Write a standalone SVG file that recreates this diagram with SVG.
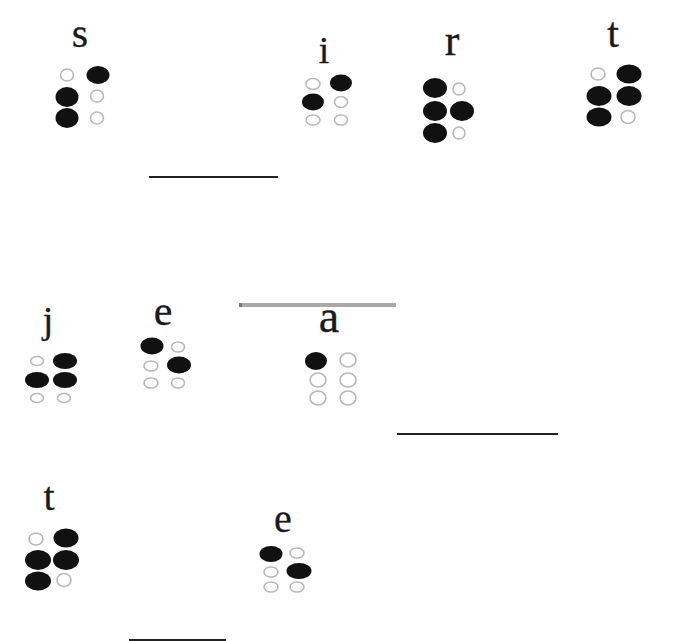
<svg xmlns="http://www.w3.org/2000/svg" width="687" height="641" viewBox="0 0 687 641">
<style>
.l{font-family:"Liberation Serif","Times New Roman",serif;fill:#1a1a1a;stroke:#1a1a1a;stroke-width:0.3;text-anchor:middle}
.f{fill:#111}
.o{fill:#fff;stroke:#b8b8b8;stroke-width:1.6}
.ln{stroke:#222;stroke-width:2}
</style>
<rect width="687" height="641" fill="#fff"/>
<g id="cell-s">
<text class="l" x="80" y="47" font-size="42">s</text>
<ellipse class="o" cx="67" cy="75" rx="6.5" ry="6"/><ellipse class="f" cx="98" cy="75" rx="11.5" ry="9"/>
<ellipse class="f" cx="67" cy="97" rx="11.5" ry="10"/><ellipse class="o" cx="97" cy="96" rx="6.5" ry="6"/>
<ellipse class="f" cx="67" cy="118" rx="11.5" ry="10"/><ellipse class="o" cx="97" cy="118" rx="6.5" ry="6"/>
</g>
<g id="cell-i">
<text class="l" x="324" y="63" font-size="38">i</text>
<ellipse class="o" cx="313" cy="84" rx="7" ry="5.5"/><ellipse class="f" cx="341" cy="83" rx="11" ry="8.5"/>
<ellipse class="f" cx="313" cy="102" rx="11" ry="8.5"/><ellipse class="o" cx="341" cy="102" rx="6.5" ry="5.5"/>
<ellipse class="o" cx="313" cy="120" rx="7" ry="5"/><ellipse class="o" cx="341" cy="120" rx="6.5" ry="5"/>
</g>
<g id="cell-r">
<text class="l" x="452" y="55" font-size="44">r</text>
<ellipse class="f" cx="435" cy="88" rx="12" ry="10"/><ellipse class="o" cx="459" cy="89" rx="6" ry="6"/>
<ellipse class="f" cx="435" cy="111" rx="12" ry="10"/><ellipse class="f" cx="462" cy="111" rx="12" ry="10"/>
<ellipse class="f" cx="435" cy="133" rx="12" ry="10"/><ellipse class="o" cx="459" cy="133" rx="6" ry="6"/>
</g>
<g id="cell-t1">
<text class="l" x="613" y="47" font-size="42">t</text>
<ellipse class="o" cx="598" cy="74" rx="7" ry="6"/><ellipse class="f" cx="629" cy="74" rx="12.5" ry="9.5"/>
<ellipse class="f" cx="599" cy="96" rx="12.5" ry="10"/><ellipse class="f" cx="629" cy="96" rx="12.5" ry="10"/>
<ellipse class="f" cx="599" cy="117" rx="12.5" ry="9.5"/><ellipse class="o" cx="628" cy="117" rx="7" ry="6.5"/>
</g>
<g id="cell-j">
<text class="l" x="48" y="333" font-size="38">j</text>
<ellipse class="o" cx="37" cy="361" rx="6.5" ry="4.5"/><ellipse class="f" cx="65" cy="361" rx="12" ry="8"/>
<ellipse class="f" cx="37" cy="380" rx="12" ry="8"/><ellipse class="f" cx="65" cy="380" rx="12" ry="8"/>
<ellipse class="o" cx="37" cy="398" rx="6.5" ry="4.5"/><ellipse class="o" cx="64" cy="398" rx="6.5" ry="4.5"/>
</g>
<g id="cell-e1">
<text class="l" x="163" y="325" font-size="42">e</text>
<ellipse class="f" cx="152" cy="346" rx="11.5" ry="8.5"/><ellipse class="o" cx="178" cy="347" rx="6.5" ry="5"/>
<ellipse class="o" cx="151" cy="366" rx="7" ry="5"/><ellipse class="f" cx="179" cy="365" rx="12" ry="8.5"/>
<ellipse class="o" cx="151" cy="383" rx="7" ry="5"/><ellipse class="o" cx="178" cy="383" rx="6.5" ry="5"/>
</g>
<g id="cell-a">
<text class="l" x="329" y="332" font-size="46">a</text>
<ellipse class="f" cx="316" cy="361" rx="11" ry="9"/><ellipse class="o" cx="348" cy="360" rx="8" ry="7"/>
<ellipse class="o" cx="318" cy="380" rx="8" ry="7"/><ellipse class="o" cx="348" cy="380" rx="8" ry="7"/>
<ellipse class="o" cx="318" cy="398" rx="8" ry="7"/><ellipse class="o" cx="348" cy="398" rx="8" ry="7"/>
</g>
<g id="cell-t2">
<text class="l" x="49" y="510" font-size="40">t</text>
<ellipse class="o" cx="36" cy="539" rx="7" ry="6"/><ellipse class="f" cx="66" cy="538" rx="12.5" ry="9.5"/>
<ellipse class="f" cx="38" cy="560" rx="13" ry="10"/><ellipse class="f" cx="66" cy="560" rx="13" ry="10"/>
<ellipse class="f" cx="38" cy="581" rx="13" ry="9.5"/><ellipse class="o" cx="64" cy="580" rx="7" ry="6.5"/>
</g>
<g id="cell-e2">
<text class="l" x="283" y="532" font-size="40">e</text>
<ellipse class="f" cx="271" cy="554" rx="11.5" ry="8"/><ellipse class="o" cx="297" cy="553" rx="7" ry="5"/>
<ellipse class="o" cx="271" cy="572" rx="7" ry="5"/><ellipse class="f" cx="299" cy="571" rx="12.5" ry="8"/>
<ellipse class="o" cx="271" cy="587" rx="7" ry="5"/><ellipse class="o" cx="297" cy="587" rx="7" ry="5"/>
</g>
<g id="connectors">
<line class="ln" x1="149" y1="177" x2="278" y2="177"/>
<rect x="239" y="303" width="157" height="4" fill="#a9a9a9"/>
<rect x="239" y="303" width="3" height="4" fill="#777"/>
<line class="ln" x1="397" y1="434" x2="558" y2="434"/>
<line class="ln" x1="129" y1="640" x2="226" y2="640" stroke="#555"/>
</g>
</svg>
